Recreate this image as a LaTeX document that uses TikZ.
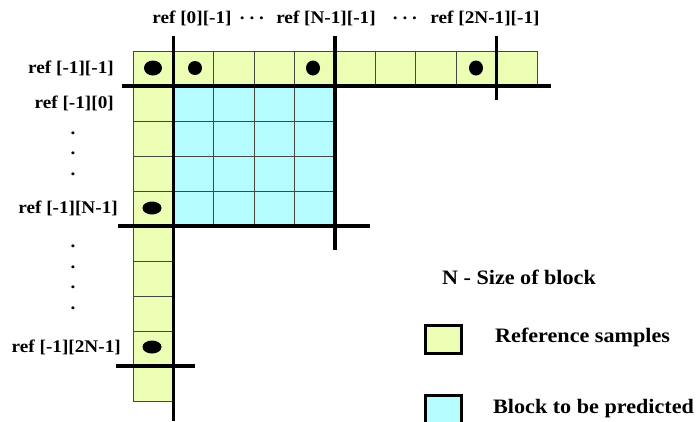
\documentclass[tikz,border=0pt]{standalone}
\usepackage{fontspec}
\setmainfont{Liberation Serif}[FakeStretch=1.08]
\definecolor{RefYellow}{RGB}{235,254,180}
\definecolor{BlockCyan}{RGB}{180,252,255}
\definecolor{GridGray}{RGB}{70,72,64}
\tikzset
{
  GridLineStyle/.style =
  {
    draw = GridGray,
    line width = 0.9pt,
  },
  BoundaryLineStyle/.style =
  {
    draw = black,
    line width = 3.6pt,
  },
  SampleDotStyle/.style =
  {
    fill = black,
  },
  LabelTextStyle/.style =
  {
    inner sep = 0pt,
    font = \bfseries\fontsize{17.8}{20}\selectfont,
  },
  LegendTextStyle/.style =
  {
    inner sep = 0pt,
    font = \bfseries\fontsize{20.5}{24}\selectfont,
  },
  LegendBoxStyle/.style =
  {
    shape = rectangle,
    draw = black,
    line width = 3pt,
    minimum width = 36pt,
    minimum height = 28pt,
    inner sep = 0pt,
  }
}

\begin{document}
\begin{tikzpicture}[x=1pt, y=-1pt]
  \useasboundingbox (0,0) rectangle (698,421);

  % reference samples and block
  \foreach \i in {0,...,9}
    \draw[GridLineStyle, fill=RefYellow] (133+40.4*\i,51) rectangle ++(40.4,35);
  \foreach \j in {1,...,9}
    \draw[GridLineStyle, fill=RefYellow] (133,51+35*\j) rectangle ++(40.4,35);
  \foreach \i in {1,...,4}
    \foreach \j in {1,...,4}
      \draw[GridLineStyle, fill=BlockCyan] (133+40.4*\i,51+35*\j) rectangle ++(40.4,35);

  % boundaries
  \draw[BoundaryLineStyle] (122,86) -- (551,86);
  \draw[BoundaryLineStyle] (173.4,36) -- (173.4,421);
  \draw[BoundaryLineStyle] (335,36) -- (335,250);
  \draw[BoundaryLineStyle] (496.6,36) -- (496.6,100);
  \draw[BoundaryLineStyle] (118,226) -- (370,226);
  \draw[BoundaryLineStyle] (116,366) -- (195,366);

  % samples
  \fill[SampleDotStyle] (153,68) ellipse [x radius=9pt, y radius=7.5pt];
  \fill[SampleDotStyle] (195,68) ellipse [x radius=7pt, y radius=7pt];
  \fill[SampleDotStyle] (313,68) ellipse [x radius=7pt, y radius=7.5pt];
  \fill[SampleDotStyle] (476,68) ellipse [x radius=7pt, y radius=7.5pt];
  \fill[SampleDotStyle] (152,208) ellipse [x radius=9.5pt, y radius=6.5pt];
  \fill[SampleDotStyle] (152,347) ellipse [x radius=9.5pt, y radius=6.5pt];

  % top labels
  \node[LabelTextStyle] (TopZero) at (192,18) {ref [0][-1]};
  \node[LabelTextStyle] (TopDotsA) at (252,18) {\vphantom{[]}\raisebox{0.22em}{.\ .\ .}};
  \node[LabelTextStyle] (TopLast) at (326,18) {ref [N-1][-1]};
  \node[LabelTextStyle] (TopDotsB) at (405,18) {\vphantom{[]}\raisebox{0.22em}{.\ .\ .}};
  \node[LabelTextStyle] (TopDouble) at (485,18) {ref [2N-1][-1]};

  % left labels
  \node[LabelTextStyle, anchor=east] (LeftCorner) at (114,68) {ref [-1][-1]};
  \node[LabelTextStyle, anchor=east] (LeftZero) at (114,103) {ref [-1][0]};
  \node[LabelTextStyle, anchor=east] (LeftLast) at (118,208) {ref [-1][N-1]};
  \node[LabelTextStyle, anchor=east] (LeftDouble) at (121,347) {ref [-1][2N-1]};
  \foreach \y in {133,153,174,246,267,287,308}
    \node[LabelTextStyle] at (73,\y) {.};

  % legend
  \node[LegendTextStyle] (LegendTitle) at (519,277) {N - Size of block};
  \node[LegendBoxStyle, fill=RefYellow] (RefLegendBox) at (443.5,339.5) {};
  \node[LegendBoxStyle, fill=BlockCyan] (BlockLegendBox) at (443.5,409.5) {};
  \node[LegendTextStyle, anchor=west] (RefLegendText) at (495,337) {Reference samples};
  \node[LegendTextStyle, anchor=west] (BlockLegendText) at (493,409) {Block to be predicted};
\end{tikzpicture}
\end{document}
